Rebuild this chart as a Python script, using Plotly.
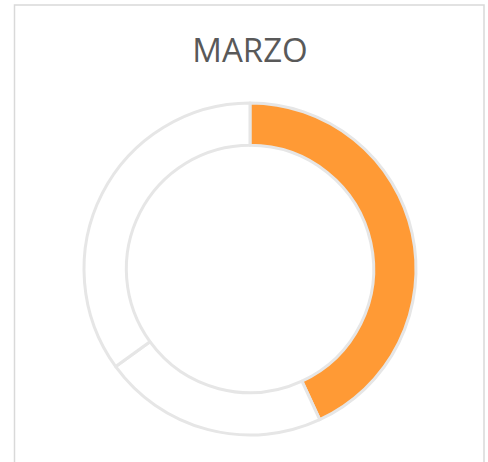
import plotly.graph_objects as go

# Data
labels = ["Avance", "Pendiente", "Resto"]
values = [43.1, 21.9, 35.0]
colors = ["#FF9A35", "#FFFFFF", "#FFFFFF"]
title_text = "MARZO"

W, H = 488, 462
cx, cy, r = 250, 269, 166

fig = go.Figure(
    go.Pie(
        labels=labels,
        values=values,
        hole=0.745,
        sort=False,
        direction="clockwise",
        rotation=0,
        marker=dict(colors=colors, line=dict(color="#E6E6E6", width=3)),
        textinfo="none",
        hoverinfo="skip",
        showlegend=False,
        domain=dict(
            x=[(cx - r) / W, (cx + r) / W],
            y=[1 - (cy + r) / H, 1 - (cy - r) / H],
        ),
    )
)

fig.add_shape(
    type="rect", xref="paper", yref="paper",
    x0=14.5 / W, x1=484 / W, y0=-0.1, y1=1 - 5 / H,
    line=dict(color="#D9D9D9", width=1.5), fillcolor="rgba(0,0,0,0)",
)

fig.update_layout(
    width=W, height=H,
    margin=dict(l=0, r=0, t=0, b=0),
    paper_bgcolor="white", plot_bgcolor="white",
    title=dict(
        text=title_text, x=250 / W, xanchor="center",
        y=1 - 50 / H, yanchor="middle",
        font=dict(family="Open Sans", size=33, color="#595959"),
    ),
)

fig.write_html(
    "out.html",
    config={"displayModeBar": False, "staticPlot": True},
    post_script="document.body.style.margin='0';document.body.style.overflow='hidden';",
)
